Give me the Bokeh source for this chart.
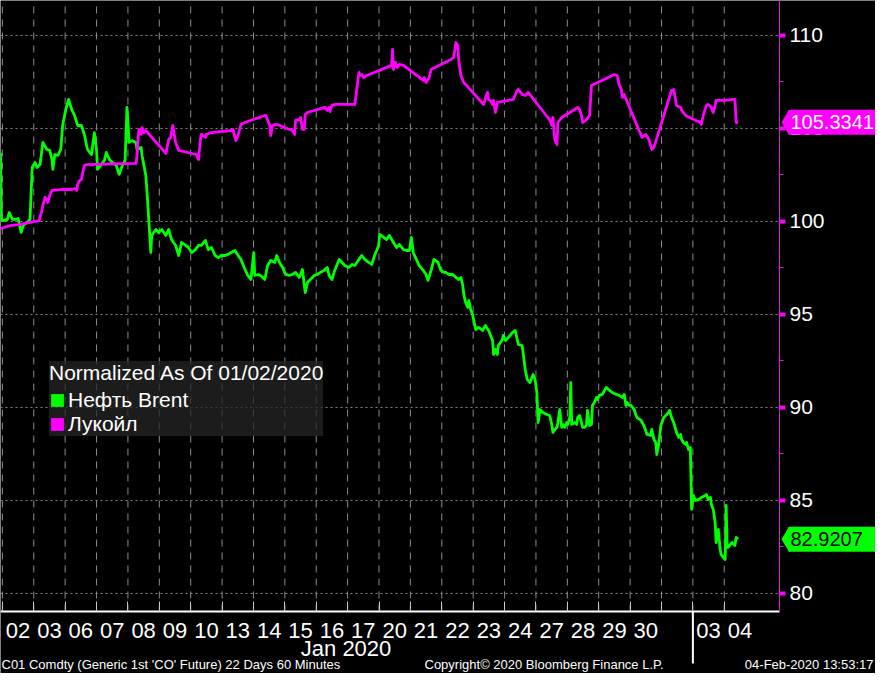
from bokeh.plotting import figure
from bokeh.models import (FixedTicker, Range1d, Label, Arrow, Legend, LegendItem,
                          BoxAnnotation, PolyAnnotation)
from bokeh.embed import file_html
from bokeh.resources import INLINE

# ---------------- data ----------------
day_labels = ["02", "03", "06", "07", "08", "09", "10", "13", "14", "15", "16", "17",
              "20", "21", "22", "23", "24", "27", "28", "29", "30", "", "03", "04"]
month_label = "Jan 2020"
month_center = 10.95
month_break = 22

y_ticks = [80, 85, 90, 95, 100, 105, 110]
y_minor = [82.5, 87.5, 92.5, 97.5, 102.5, 107.5]

brent_name = "Нефть Brent"
lukoil_name = "Лукойл"
legend_title = "Normalized As Of 01/02/2020"

brent_x = [-0.06, -0.03, 0.03, 0.16, 0.22, 0.32, 0.41, 0.50, 0.60, 0.66,
           0.79, 0.88, 0.95, 1.04, 1.10, 1.20, 1.29, 1.42, 1.51, 1.58,
           1.61, 1.67, 1.77, 1.86, 1.92, 2.02, 2.11, 2.21, 2.30, 2.40,
           2.52, 2.62, 2.71, 2.84, 2.93, 3.00, 3.03, 3.15, 3.25, 3.31,
           3.41, 3.50, 3.63, 3.72, 3.82, 3.91, 3.97, 4.04, 4.13, 4.26,
           4.29, 4.42, 4.45, 4.57, 4.61, 4.67, 4.73, 4.76, 4.89, 4.98,
           5.08, 5.21, 5.30, 5.39, 5.52, 5.62, 5.71, 5.84, 5.93, 6.03,
           6.15, 6.25, 6.34, 6.47, 6.56, 6.66, 6.78, 6.88, 6.97, 7.10,
           7.19, 7.29, 7.41, 7.51, 7.60, 7.73,
           7.82, 7.92, 8.01, 8.04, 8.14, 8.23, 8.36, 8.45, 8.55, 8.68,
           8.74, 8.83, 8.93, 9.02, 9.15, 9.24, 9.34, 9.46, 9.56, 9.65,
           9.72, 9.81, 9.94, 10.03, 10.13, 10.25, 10.35, 10.41, 10.50, 10.60,
           10.73, 10.82, 10.91, 11.04, 11.14, 11.23, 11.36, 11.45, 11.55, 11.67,
           11.77, 11.86, 11.99, 12.02, 12.15, 12.24, 12.33, 12.46, 12.56, 12.65,
           12.78, 12.87, 12.97, 13.03, 13.09, 13.19, 13.28, 13.41, 13.50, 13.56,
           13.66, 13.75, 13.88, 13.97, 14.07,
           14.13, 14.23, 14.35, 14.45, 14.54, 14.61, 14.67, 14.70, 14.76, 14.83,
           14.86, 14.92, 14.98, 15.02, 15.08, 15.17, 15.30, 15.39, 15.49, 15.62,
           15.65, 15.71, 15.77, 15.80, 15.87, 15.93, 15.96, 16.03, 16.12, 16.25,
           16.34, 16.44, 16.56, 16.59, 16.66, 16.72, 16.81, 16.91, 16.97, 17.03,
           17.07, 17.13, 17.22, 17.35, 17.44, 17.51, 17.54, 17.60, 17.67, 17.70,
           17.76, 17.82, 17.85, 17.92, 17.98, 18.01, 18.08, 18.11, 18.14, 18.23,
           18.30, 18.33, 18.39, 18.45, 18.49, 18.55, 18.61, 18.64, 18.71, 18.77,
           18.80, 18.86, 18.93, 18.96, 19.02, 19.12, 19.24, 19.34, 19.43, 19.56,
           19.65, 19.75, 19.81, 19.87, 19.91, 19.97, 20.03, 20.13, 20.19, 20.22,
           20.35, 20.44, 20.54, 20.66, 20.69, 20.76, 20.82, 20.85, 20.92, 20.98,
           21.07, 21.17, 21.26, 21.32, 21.39, 21.48, 21.55, 21.61, 21.64, 21.70,
           21.77, 21.80, 21.86, 21.92, 21.96, 22.02, 22.08, 22.18, 22.27, 22.40,
           22.43, 22.49, 22.56, 22.59, 22.65, 22.71, 22.74, 22.81, 22.87, 22.90,
           22.97, 23.03, 23.06, 23.09, 23.12, 23.19, 23.25, 23.34, 23.38, 23.44]
brent_y = [103.70, 100.11, 100.05, 100.11, 100.48, 100.11, 100.11, 100.16, 99.41, 99.78,
           99.95, 100.11, 102.90, 103.17, 102.90, 103.06, 104.25, 103.87, 103.82, 103.33,
           102.80, 103.60, 103.55, 103.87, 105.16, 106.02, 106.56, 106.02, 105.70, 105.16,
           105.16, 104.62, 103.87, 103.60, 104.78, 103.87, 102.80, 103.06, 103.28, 103.71,
           103.33, 103.17, 103.01, 102.53, 103.01, 103.28, 106.13, 104.25, 104.35, 104.25,
           103.87, 103.98, 103.55, 102.47, 101.56, 99.95, 98.33, 99.25, 99.57, 99.41,
           99.57, 99.25, 99.57, 99.03, 98.71, 98.17, 98.87, 98.71, 98.60, 98.33,
           98.49, 98.71, 98.71, 98.98, 98.49, 98.60, 98.17, 98.06, 98.17, 98.17,
           98.23, 98.33, 98.44, 98.17, 97.96, 97.42,
           97.10, 96.88, 98.33, 97.10, 97.15, 97.10, 96.88, 97.63, 97.90, 97.80,
           98.17, 97.80, 97.53, 97.15, 97.10, 97.15, 97.26, 96.99, 97.42, 96.18,
           96.72, 96.88, 97.10, 97.15, 97.26, 97.37, 97.53, 97.10, 96.88, 97.42,
           97.96, 97.80, 97.63, 97.53, 97.69, 97.63, 97.96, 98.17, 97.96, 97.80,
           97.69, 98.17, 98.71, 99.30, 99.14, 99.03, 99.25, 98.87, 98.60, 98.76,
           98.49, 98.44, 98.44, 99.14, 98.33, 97.96, 97.63, 97.37, 97.15, 96.83,
           97.37, 97.96, 97.80, 97.37, 97.26,
           97.26, 97.15, 97.15, 96.99, 96.88, 96.99, 96.56, 96.08, 95.65, 95.38,
           95.75, 95.27, 95.00, 94.68, 94.19, 94.30, 94.14, 94.41, 94.14, 93.60,
           92.85, 93.12, 92.85, 93.33, 93.49, 93.66, 93.87, 93.60, 93.76, 94.03,
           94.14, 93.39, 93.33, 92.96, 92.04, 91.51, 91.34, 91.77, 91.51, 90.81,
           89.19, 89.89, 89.73, 89.62, 89.57, 89.03, 88.66, 88.82, 88.93, 89.19,
           89.89, 88.93, 89.09, 88.93, 89.19, 89.09, 89.46, 91.34, 89.09, 89.19,
           89.09, 89.46, 89.57, 89.19, 88.93, 88.93, 89.03, 89.84, 89.03, 89.09,
           90.11, 90.27, 90.54, 90.43, 90.65, 90.70, 91.08, 90.92, 90.81, 90.70,
           90.65, 90.54, 90.70, 90.11, 90.27, 90.11, 90.11, 89.89, 89.57, 89.46,
           89.30, 89.03, 88.55, 88.50, 88.82, 88.28, 88.12, 87.47, 88.12, 89.03,
           89.46, 89.62, 89.84, 89.46, 89.19, 88.66, 88.39, 88.55, 88.28, 88.12,
           88.01, 88.12, 87.74, 87.85, 84.52, 85.27, 85.00, 85.05, 85.16, 85.27,
           85.32, 85.05, 85.16, 84.78, 84.52, 83.82, 82.74, 83.44, 82.37, 82.10,
           81.94, 81.83, 84.73, 82.63, 82.47, 82.63, 82.74, 82.58, 83.01, 82.9207]

lukoil_x = [-0.06, 0.25, 0.57, 0.88, 1.17, 1.26, 1.29, 1.36, 1.42, 1.45,
            1.51, 1.58, 1.61, 1.92, 2.21, 2.30, 2.37, 2.40, 2.46, 2.52,
            2.56, 2.62, 2.68, 4.26, 4.29, 4.32, 4.35, 4.42, 4.45, 4.51,
            4.57, 5.21, 5.30, 5.36, 5.43, 5.52, 5.62, 6.18, 6.25, 6.31,
            6.34, 6.47, 6.50, 6.66, 7.29, 7.35, 7.41, 7.44, 7.51, 7.60,
            7.73, 8.36, 8.39, 8.52, 8.55, 8.61, 8.68, 8.77, 8.99, 9.24,
            9.31, 9.34, 9.46, 9.50, 9.56, 9.62, 9.65, 9.72, 10.28, 10.35,
            10.41, 10.44, 10.50, 10.60, 11.23, 11.36, 11.39, 11.45, 11.51, 11.61,
            12.40, 12.43, 12.46, 12.52, 12.59, 12.65, 12.78, 13.41, 13.44, 13.50,
            13.56, 13.60, 13.66, 14.29, 14.38, 14.45, 14.51, 14.54, 14.61, 14.70,
            14.76, 15.33, 15.43, 15.46, 15.49, 15.55, 15.62, 15.65, 15.71, 15.77,
            16.28, 16.40, 16.44, 16.56, 16.66, 16.75, 17.38, 17.44, 17.51, 17.54,
            17.60, 17.67, 17.70, 17.82, 18.33, 18.39, 18.45, 18.49, 18.61, 18.71,
            18.77, 19.50, 19.59, 19.65, 19.72, 19.75, 19.81, 20.38, 20.50, 20.60,
            20.69, 20.76, 21.32, 21.39, 21.48, 21.61, 21.64, 21.77, 21.96, 22.24,
            22.27, 22.33, 22.43, 22.49, 22.59, 22.65, 22.71, 22.74, 23.03, 23.28,
            23.34, 23.38, 23.44]
lukoil_y = [99.62, 99.78, 99.84, 99.95, 100.05, 100.59, 100.86, 101.29, 101.18, 101.02,
            101.40, 101.67, 101.67, 101.72, 101.72, 101.77, 101.67, 101.99, 102.20, 102.26,
            102.63, 103.01, 103.06, 103.12, 103.55, 104.35, 104.95, 104.68, 105.05, 104.78,
            104.89, 103.66, 104.41, 104.52, 105.16, 104.25, 103.82, 103.60, 103.33, 104.41,
            104.68, 104.52, 104.68, 104.78, 104.89, 104.95, 104.52, 104.35, 104.62, 105.21,
            105.32, 105.70, 105.70, 105.16, 104.62, 105.16, 105.21, 105.21, 105.05, 104.89,
            104.68, 105.43, 105.48, 105.59, 104.95, 104.95, 105.75, 105.86, 106.13, 105.97,
            106.13, 105.91, 106.24, 106.29, 106.29, 108.01, 107.85, 107.90, 107.74, 107.85,
            108.39, 109.25, 108.17, 108.55, 108.28, 108.44, 108.39, 107.58, 107.74, 107.47,
            107.63, 107.74, 108.17, 108.71, 108.82, 109.62, 109.46, 108.66, 107.85, 107.47,
            107.37, 106.29, 106.83, 106.94, 106.56, 106.51, 106.29, 106.51, 105.86, 106.40,
            106.56, 107.04, 107.10, 106.83, 106.77, 106.94, 105.59, 105.48, 105.16, 105.59,
            104.41, 104.14, 105.32, 105.59, 106.13, 106.02, 105.70, 105.32, 105.48, 105.70,
            107.31, 107.90, 107.85, 107.37, 107.10, 106.67, 106.83, 104.52, 104.68, 104.41,
            103.87, 103.98, 107.04, 107.10, 106.24, 106.13, 105.97, 105.70, 105.54, 105.32,
            105.21, 105.70, 106.24, 106.29, 106.13, 105.86, 106.24, 106.51, 106.51, 106.56,
            106.56, 105.32, 105.3341]

assert len(brent_x) == len(brent_y)
assert len(lukoil_x) == len(lukoil_y)

footer_left = "C01 Comdty (Generic 1st 'CO' Future) 22 Days 60 Minutes"
footer_mid = "Copyright\u00a9 2020 Bloomberg Finance L.P."
footer_right = "04-Feb-2020 13:53:17"

# ---------------- styling / layout ----------------
GREEN = "#00ff00"
MAGENTA = "#ff00ff"
FONT = "Liberation Sans"
GRID = "#8c8c8c"

W, H = 875, 673            # canvas (= frame, the axes sit at fixed locations)
PLOT_W, PLOT_H = 779, 611  # the charting area inside it
X0, X_END = -0.06, 24.76   # x extent of the charting area (trading-day index)
PXX = PLOT_W / (X_END - X0)
PXU = 18.6                 # pixels per unit on y
Y1 = 111.88
Y0 = Y1 - PLOT_H / PXU
XR = X0 + W / PXX
YB = Y1 - H / PXU


def x_at(cx):
    return X0 + cx / PXX


def y_at(cy):
    return Y1 - cy / PXU


p = figure(width=W, height=H, x_range=Range1d(X0, XR), y_range=Range1d(YB, Y1),
           y_axis_location="right", output_backend="svg", toolbar_location=None,
           min_border_left=0, min_border_top=0, min_border_right=0, min_border_bottom=0,
           background_fill_color="black", border_fill_color="black",
           outline_line_color=None)
p.grid.visible = False

# grid lines, limited to the charting area
boundaries = list(range(len(day_labels)))
p.segment(x0=boundaries, x1=boundaries, y0=[Y0] * len(boundaries), y1=[Y1] * len(boundaries),
          line_color=GRID, line_width=1, line_dash="7 6")
p.segment(x0=[X0] * len(y_ticks), x1=[X_END] * len(y_ticks), y0=y_ticks, y1=y_ticks,
          line_color=GRID, line_width=1, line_dash="2 3")

# x axis
centers = [i + 0.5 for i, lab in enumerate(day_labels) if lab]
xa = p.xaxis[0]
xa.fixed_location = Y0
xa.bounds = (X0, X_END)
xa.ticker = FixedTicker(ticks=centers, minor_ticks=boundaries)
xa.major_label_overrides = {i + 0.5: lab for i, lab in enumerate(day_labels) if lab}
xa.major_tick_line_color = None
xa.minor_tick_in = 10
xa.minor_tick_out = 0
xa.minor_tick_line_color = "#c8c8c8"
xa.axis_line_color = "white"
xa.axis_line_width = 2
xa.major_label_text_color = "white"
xa.major_label_text_font = FONT
xa.major_label_text_font_size = "22px"
xa.major_label_standoff = 5

# y axis (right)
ya = p.yaxis[0]
ya.fixed_location = X_END
ya.bounds = (Y0, Y1)
ya.ticker = FixedTicker(ticks=y_ticks, minor_ticks=y_minor)
ya.axis_line_color = "#d020d0"
ya.axis_line_width = 1
ya.major_tick_line_color = MAGENTA
ya.major_tick_line_width = 4
ya.major_tick_in = 0
ya.major_tick_out = 6
ya.minor_tick_line_color = MAGENTA
ya.minor_tick_in = 0
ya.minor_tick_out = 4
ya.major_label_text_color = "white"
ya.major_label_text_font = FONT
ya.major_label_text_font_size = "21px"
ya.major_label_standoff = 4

# series
p.line(brent_x, brent_y, line_color=GREEN, line_width=2.8, line_join="round")
p.line(lukoil_x, lukoil_y, line_color=MAGENTA, line_width=2.8, line_join="round")

# legend (square swatches; zero-size quads at the last points)
sw_b = p.quad(left=[brent_x[-1]], right=[brent_x[-1]], top=[brent_y[-1]], bottom=[brent_y[-1]],
              fill_color=GREEN, line_color=None)
sw_l = p.quad(left=[lukoil_x[-1]], right=[lukoil_x[-1]], top=[lukoil_y[-1]], bottom=[lukoil_y[-1]],
              fill_color=MAGENTA, line_color=None)
legend = Legend(items=[LegendItem(label=brent_name, renderers=[sw_b]),
                       LegendItem(label=lukoil_name, renderers=[sw_l])],
                title=legend_title, location=(49, H - 436),
                background_fill_color="#262626", background_fill_alpha=0.75,
                border_line_color=None,
                label_text_color="white", label_text_font=FONT, label_text_font_size="21px",
                title_text_color="white", title_text_font=FONT, title_text_font_size="21px",
                title_text_font_style="normal", title_standoff=3,
                glyph_width=16, glyph_height=16, label_height=24, label_standoff=3,
                spacing=0, padding=9, margin=0)
p.add_layout(legend)

# last-value tags on the right
half = 12.5 / PXU
for val, bg, fg in [(lukoil_y[-1], MAGENTA, "white"), (brent_y[-1], GREEN, "black")]:
    p.add_layout(BoxAnnotation(left=x_at(PLOT_W + 9), right=XR, top=val + half, bottom=val - half,
                               fill_color=bg, fill_alpha=1, line_color=None))
    p.add_layout(PolyAnnotation(xs=[x_at(PLOT_W + 2), x_at(PLOT_W + 9.5), x_at(PLOT_W + 9.5)],
                                ys=[val, val + half, val - half],
                                fill_color=bg, fill_alpha=1, line_color=None))
    p.add_layout(Label(x=x_at(PLOT_W + 11), y=val, text=f"{val:.4f}", text_color=fg,
                       text_font=FONT, text_font_size="20px",
                       text_baseline="middle", text_align="left"))

# month label and separator
p.add_layout(Label(x=month_center, y=y_at(PLOT_H + 37), text=month_label, text_color="white",
                   text_font=FONT, text_font_size="22px", text_align="center",
                   text_baseline="middle"))
p.add_layout(Arrow(x_start=month_break, y_start=Y0, x_end=month_break, y_end=y_at(PLOT_H + 52),
                   end=None, line_color="white", line_width=2))

# footer
fy = y_at(PLOT_H + 53)
for txt, cx, al in [(footer_left, 1, "left"), (footer_mid, 424, "left"), (footer_right, 873, "right")]:
    p.add_layout(Label(x=x_at(cx), y=fy, text=txt,
                       text_color="white", text_font=FONT, text_font_size="13px",
                       text_align=al, text_baseline="middle"))

open("out.html", "w").write(file_html(p, INLINE))
